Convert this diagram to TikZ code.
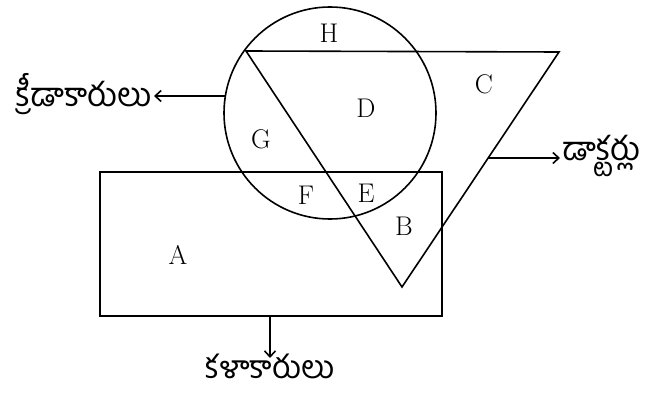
\documentclass[tikz,border=0pt]{standalone}
\usepackage{fontspec}
\newfontfamily\telugu[Script=Telugu]{Hind Guntur}
\usetikzlibrary{arrows.meta,calc}
\begin{document}
\begin{tikzpicture}[x=1pt,y=-1pt,
  shape line/.style={line width=1.6pt},
  arr/.style={line width=1.6pt,-{Straight Barb[length=6pt,width=11pt,line width=1.6pt]}},
  region/.style={font=\fontsize{27pt}{29pt}\selectfont},
  tlabel/.style={font=\telugu\fontsize{33pt}{35pt}\selectfont,inner sep=2pt}]
\useasboundingbox (0,0) rectangle (652,398);
% shapes
\node[shape line,draw,circle,minimum size=212pt,inner sep=0pt] (circ) at (330,113) {};
\coordinate (t1) at (246,51);
\coordinate (t2) at (559,52);
\coordinate (t3) at (402,287);
\draw[shape line,line join=miter] (t1) -- (t2) -- (t3) -- cycle;
\draw[shape line] (100,172) rectangle (442,316);
% region labels
\node[region] (H) at (329,33) {H};
\node[region] (C) at (484,84) {C};
\node[region] (D) at (366,108) {D};
\node[region] (G) at (261,139) {G};
\node[region] (F) at (306,195) {F};
\node[region] (E) at (366,193) {E};
\node[region] (B) at (404,226) {B};
\node[region] (A) at (178,255) {A};
% arrows and category labels
\coordinate (la) at (225,96);
\node[tlabel,anchor=east] (sport) at (154,94) {క్రీడాకారులు};
\draw[arr] (la) -- (sport.east |- la);
\coordinate (ra) at (488,158);
\node[tlabel,anchor=west] (doc) at (560,156) {డాక్టర్లు};
\draw[arr] (ra) -- (doc.west |- ra);
\coordinate (ba) at (270,316);
\coordinate (bt) at (270,358);
\node[tlabel,anchor=base,font=\telugu\fontsize{32pt}{34pt}\selectfont] (art) at (270,378) {కళాకారులు};
\draw[arr] (ba) -- (bt);
\end{tikzpicture}
\end{document}
